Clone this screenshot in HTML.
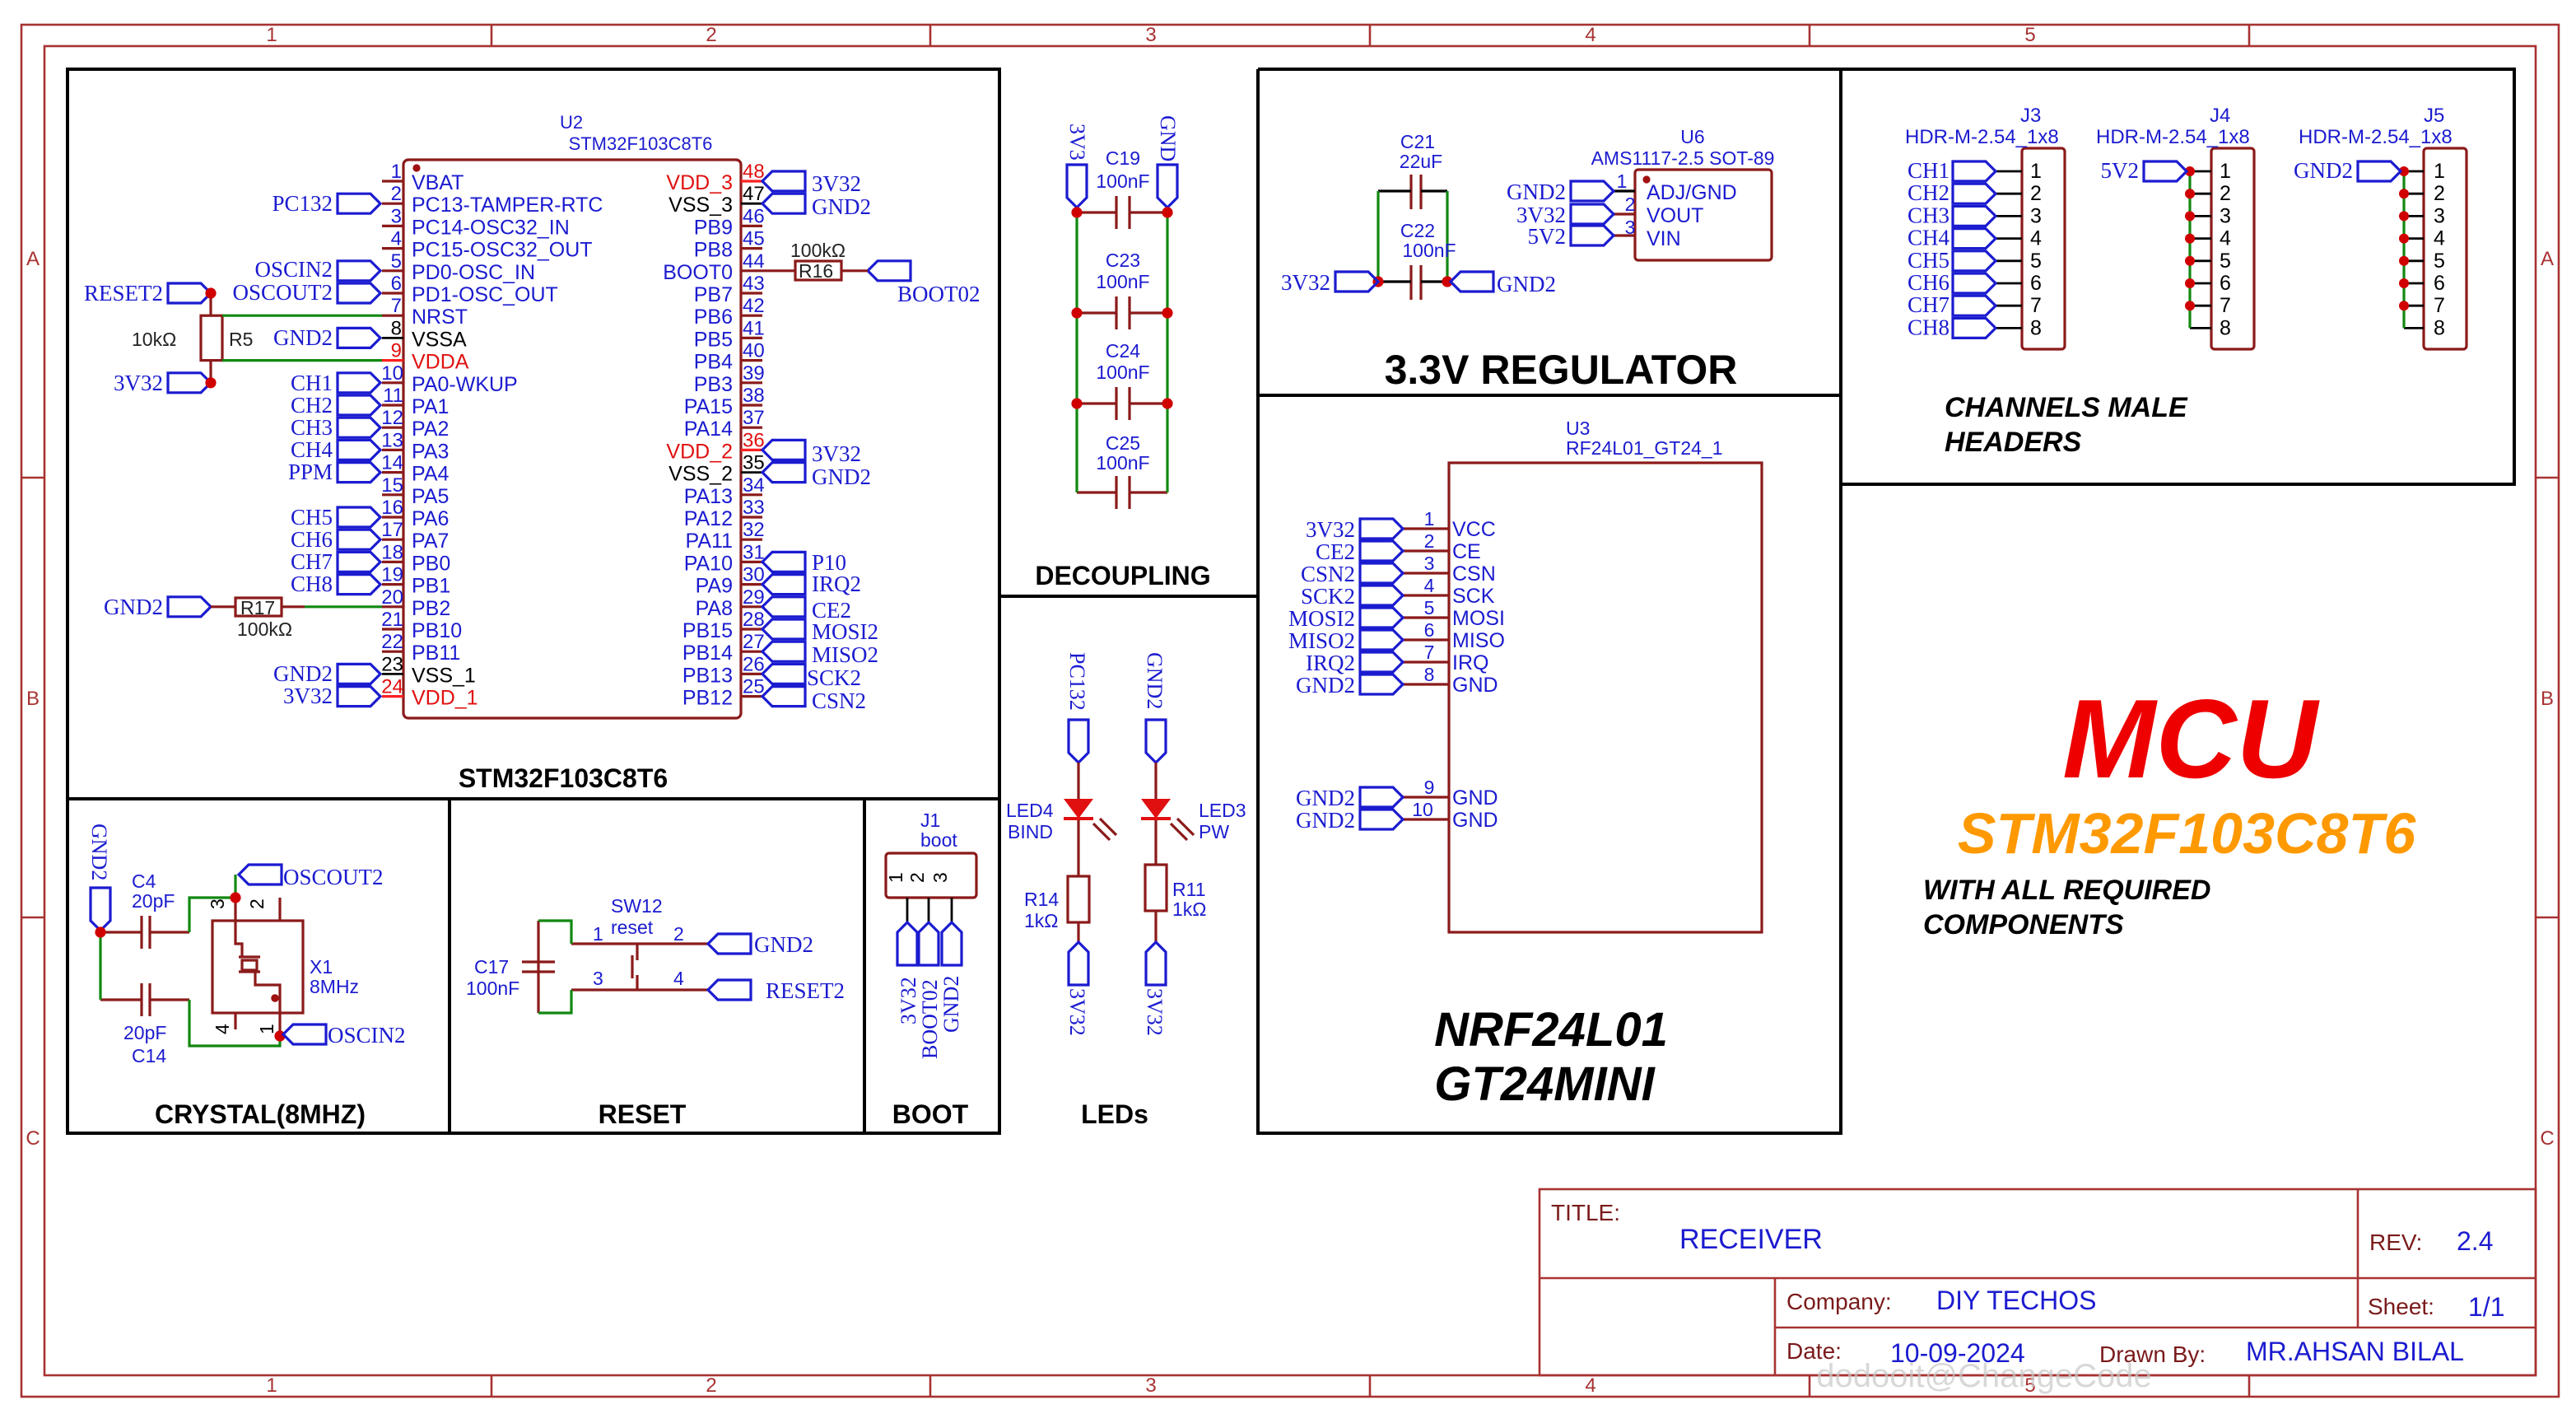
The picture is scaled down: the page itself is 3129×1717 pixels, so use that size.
<!DOCTYPE html>
<html><head><meta charset="utf-8"><style>
html,body{margin:0;padding:0;background:#fff}
svg{display:block}
.s{font-family:"Liberation Sans",sans-serif}
.r{font-family:"Liberation Serif",serif}
.b{fill:#1b1bd0}
.k{fill:#000}
.rd{fill:#e01010}
.dr{fill:#7a1010}
</style></head><body>
<svg width="3129" height="1717" viewBox="0 0 1564.5 858.5" xmlns="http://www.w3.org/2000/svg">
<defs>
<path id="fR" d="M0,-6H20L26,0L20,6H0Z" fill="none" stroke="#1b1bd0" stroke-width="1.6"/>
<path id="fL" d="M0,0L6,-6H26V6H6Z" fill="none" stroke="#1b1bd0" stroke-width="1.6"/>
<path id="fD" d="M-6,0H6V20L0,26L-6,20Z" fill="none" stroke="#1b1bd0" stroke-width="1.6"/>
<path id="fU" d="M0,0L6,6V26H-6V6Z" fill="none" stroke="#1b1bd0" stroke-width="1.6"/>
</defs>
<rect width="1564.5" height="858.5" fill="#fff"/>
<g fill="none" stroke="#a83232" stroke-width="1.3">
<rect x="13" y="15" width="1541" height="833"/>
<rect x="27" y="28" width="1513" height="807"/>
<path d="M298.5,15V28M565,15V28M832,15V28M1099,15V28M1366,15V28M298.5,835V848M565,835V848M832,835V848M1099,835V848M1366,835V848M13,290H27M13,557H27M1540,290H1554M1540,557H1554"/>
</g>
<g class="s" font-size="12" fill="#a83232" text-anchor="middle">
<text x="165" y="25">1</text><text x="432" y="25">2</text><text x="699" y="25">3</text><text x="966" y="25">4</text><text x="1233" y="25">5</text>
<text x="165" y="845">1</text><text x="432" y="845">2</text><text x="699" y="845">3</text><text x="966" y="845">4</text><text x="1233" y="845">5</text>
<text x="20" y="161">A</text><text x="20" y="428">B</text><text x="20" y="695">C</text>
<text x="1547" y="161">A</text><text x="1547" y="428">B</text><text x="1547" y="695">C</text>
</g>
<g fill="none" stroke="#000" stroke-width="2">
<rect x="41" y="42" width="566" height="646"/>
<path d="M41,485H607M607,42V688M607,362H764M764,42V688H1118V42H764M764,240H1118M1118,42H1527V294H1118M273,485V688M525,485V688"/>
</g>
<g class="s" font-weight="bold" fill="#000" text-anchor="middle">
<text x="342" y="478" font-size="16">STM32F103C8T6</text>
<text x="682" y="355" font-size="16">DECOUPLING</text>
<text x="948" y="233" font-size="25">3.3V REGULATOR</text>
<text x="158" y="682" font-size="16">CRYSTAL(8MHZ)</text>
<text x="390" y="682" font-size="16">RESET</text>
<text x="565" y="682" font-size="16">BOOT</text>
<text x="677" y="682" font-size="16">LEDs</text>
</g>
<g class="s" font-weight="bold" font-style="italic">
<text x="942" y="635" font-size="29" text-anchor="middle">NRF24L01</text>
<text x="938" y="668" font-size="29" text-anchor="middle">GT24MINI</text>
<text x="1181" y="253" font-size="17">CHANNELS MALE</text>
<text x="1181" y="274" font-size="17">HEADERS</text>
<text x="1330" y="472" font-size="68" fill="#ee0000" text-anchor="middle">MCU</text>
<text x="1328" y="518" font-size="35" fill="#ff9900" text-anchor="middle">STM32F103C8T6</text>
<text x="1168" y="546" font-size="17">WITH ALL REQUIRED</text>
<text x="1168" y="567" font-size="17">COMPONENTS</text>
</g>

<rect x="245" y="97" width="205" height="339" rx="3" fill="none" stroke="#8b1a1a" stroke-width="1.6"/>
<circle cx="253" cy="102" r="2.3" fill="#a01010"/>
<g class="s" font-size="11" fill="#1b1bd0" text-anchor="middle"><text x="347" y="78">U2</text><text x="389" y="91">STM32F103C8T6</text></g>
<g stroke="#8b1a1a" stroke-width="1.6">
<path d="M232,110H245M232,123.6H245M232,137.2H245M232,150.8H245M232,164.4H245M232,178H245M232,191.6H245M232,232.4H245M232,246H245M232,259.6H245M232,273.2H245M232,286.8H245M232,300.4H245M232,314H245M232,327.6H245M232,341.2H245M232,354.8H245M232,368.4H245M232,382H245M232,395.6H245"/>
<path d="M450,150.8H463M450,137.2H463M450,164.4H463M450,178H463M450,191.6H463M450,205.2H463M450,218.8H463M450,232.4H463M450,246H463M450,259.6H463M450,300.4H463M450,314H463M450,327.6H463M450,341.2H463M450,354.8H463M450,368.4H463M450,382H463M450,395.6H463M450,409.2H463M450,422.8H463"/>
</g>
<path d="M232,218.8H245M232,422.8H245M450,110H463M450,273.2H463" stroke="#ff2020" stroke-width="1.6"/>
<path d="M232,205.2H245M232,409.2H245M450,123.6H463M450,286.8H463" stroke="#000" stroke-width="1.4"/>
<g class="s" font-size="12" text-anchor="end" fill="#1b1bd0">
<text x="244" y="108">1</text><text x="244" y="121.6">2</text><text x="244" y="135.2">3</text><text x="244" y="148.8">4</text><text x="244" y="162.4">5</text><text x="244" y="176">6</text><text x="244" y="189.6">7</text><text x="244" y="203.2" class="k">8</text><text x="244" y="216.8" class="rd">9</text><text x="245" y="230.4">10</text><text x="245" y="244">11</text><text x="245" y="257.6">12</text><text x="245" y="271.2">13</text><text x="245" y="284.8">14</text><text x="245" y="298.4">15</text><text x="245" y="312">16</text><text x="245" y="325.6">17</text><text x="245" y="339.2">18</text><text x="245" y="352.8">19</text><text x="245" y="366.4">20</text><text x="245" y="380">21</text><text x="245" y="393.6">22</text><text x="245" y="407.2" class="k">23</text><text x="245" y="420.8" class="rd">24</text>
</g>
<g class="s" font-size="12" fill="#1b1bd0">
<text x="451" y="108" class="rd">48</text><text x="451" y="121.6" class="k">47</text><text x="451" y="135.2">46</text><text x="451" y="148.8">45</text><text x="451" y="162.4">44</text><text x="451" y="176">43</text><text x="451" y="189.6">42</text><text x="451" y="203.2">41</text><text x="451" y="216.8">40</text><text x="451" y="230.4">39</text><text x="451" y="244">38</text><text x="451" y="257.6">37</text><text x="451" y="271.2" class="rd">36</text><text x="451" y="284.8" class="k">35</text><text x="451" y="298.4">34</text><text x="451" y="312">33</text><text x="451" y="325.6">32</text><text x="451" y="339.2">31</text><text x="451" y="352.8">30</text><text x="451" y="366.4">29</text><text x="451" y="380">28</text><text x="451" y="393.6">27</text><text x="451" y="407.2">26</text><text x="451" y="420.8">25</text>
</g>
<g class="s" font-size="12.5" fill="#1b1bd0">
<text x="250" y="115">VBAT</text><text x="250" y="128.6">PC13-TAMPER-RTC</text><text x="250" y="142.2">PC14-OSC32_IN</text><text x="250" y="155.8">PC15-OSC32_OUT</text><text x="250" y="169.4">PD0-OSC_IN</text><text x="250" y="183">PD1-OSC_OUT</text><text x="250" y="196.6">NRST</text><text x="250" y="210.2" class="k">VSSA</text><text x="250" y="223.8" class="rd">VDDA</text><text x="250" y="237.4">PA0-WKUP</text><text x="250" y="251">PA1</text><text x="250" y="264.6">PA2</text><text x="250" y="278.2">PA3</text><text x="250" y="291.8">PA4</text><text x="250" y="305.4">PA5</text><text x="250" y="319">PA6</text><text x="250" y="332.6">PA7</text><text x="250" y="346.2">PB0</text><text x="250" y="359.8">PB1</text><text x="250" y="373.4">PB2</text><text x="250" y="387">PB10</text><text x="250" y="400.6">PB11</text><text x="250" y="414.2" class="k">VSS_1</text><text x="250" y="427.8" class="rd">VDD_1</text>
</g>
<g class="s" font-size="12.5" fill="#1b1bd0" text-anchor="end">
<text x="445" y="115" class="rd">VDD_3</text><text x="445" y="128.6" class="k">VSS_3</text><text x="445" y="142.2">PB9</text><text x="445" y="155.8">PB8</text><text x="445" y="169.4">BOOT0</text><text x="445" y="183">PB7</text><text x="445" y="196.6">PB6</text><text x="445" y="210.2">PB5</text><text x="445" y="223.8">PB4</text><text x="445" y="237.4">PB3</text><text x="445" y="251">PA15</text><text x="445" y="264.6">PA14</text><text x="445" y="278.2" class="rd">VDD_2</text><text x="445" y="291.8" class="k">VSS_2</text><text x="445" y="305.4">PA13</text><text x="445" y="319">PA12</text><text x="445" y="332.6">PA11</text><text x="445" y="346.2">PA10</text><text x="445" y="359.8">PA9</text><text x="445" y="373.4">PA8</text><text x="445" y="387">PB15</text><text x="445" y="400.6">PB14</text><text x="445" y="414.2">PB13</text><text x="445" y="427.8">PB12</text>
</g>
<use href="#fR" x="205" y="123.6"/><use href="#fR" x="205" y="164.4"/><use href="#fR" x="205" y="178"/><use href="#fR" x="205" y="205.2"/>
<use href="#fR" x="205" y="232.4"/><use href="#fR" x="205" y="246"/><use href="#fR" x="205" y="259.6"/><use href="#fR" x="205" y="273.2"/><use href="#fR" x="205" y="286.8"/>
<use href="#fR" x="205" y="314"/><use href="#fR" x="205" y="327.6"/><use href="#fR" x="205" y="341.2"/><use href="#fR" x="205" y="354.8"/>
<use href="#fR" x="205" y="409.2"/><use href="#fR" x="205" y="422.8"/>
<use href="#fR" x="102" y="178"/><use href="#fR" x="102" y="232.4"/><use href="#fR" x="102" y="368.4"/>
<g class="r" font-size="13.5" fill="#1b1bd0" text-anchor="end">
<text x="202" y="128">PC132</text><text x="202" y="168">OSCIN2</text><text x="202" y="182">OSCOUT2</text><text x="202" y="209.5">GND2</text>
<text x="202" y="237">CH1</text><text x="202" y="250.5">CH2</text><text x="202" y="264">CH3</text><text x="202" y="277.5">CH4</text><text x="202" y="291">PPM</text>
<text x="202" y="318.5">CH5</text><text x="202" y="332">CH6</text><text x="202" y="345.5">CH7</text><text x="202" y="359">CH8</text>
<text x="202" y="413.5">GND2</text><text x="202" y="427">3V32</text>
<text x="99" y="182.5">RESET2</text><text x="99" y="237">3V32</text><text x="99" y="373">GND2</text>
</g>
<path d="M128,178V191.6M128,218.8V232.4M128,368.4H143M171,368.4H185" stroke="#8b1a1a" stroke-width="1.6" fill="none"/>
<rect x="122" y="191.6" width="13" height="27.2" fill="none" stroke="#8b1a1a" stroke-width="1.6"/>
<path d="M135,191.6H232M135,218.8H232M185,368.4H232" stroke="#118811" stroke-width="1.6"/>
<circle cx="128" cy="178" r="3.3" fill="#d00000"/><circle cx="128" cy="232.4" r="3.3" fill="#d00000"/>
<rect x="143" y="363" width="28" height="11" fill="none" stroke="#8b1a1a" stroke-width="1.6"/>
<g class="s" font-size="11.5" fill="#222"><text x="80" y="210">10kΩ</text><text x="139" y="210">R5</text><text x="146" y="373">R17</text><text x="144" y="386">100kΩ</text></g>
<use href="#fL" x="463" y="110"/><use href="#fL" x="463" y="123.6"/><use href="#fL" x="463" y="273.2"/><use href="#fL" x="463" y="286.8"/>
<use href="#fL" x="463" y="341.2"/><use href="#fL" x="463" y="354.8"/><use href="#fL" x="463" y="368.4"/><use href="#fL" x="463" y="382"/><use href="#fL" x="463" y="395.6"/><use href="#fL" x="463" y="409.2"/><use href="#fL" x="463" y="422.8"/>
<use href="#fL" x="527" y="164.4"/>
<g class="r" font-size="13.5" fill="#1b1bd0">
<text x="493" y="116">3V32</text><text x="493" y="130">GND2</text><text x="493" y="280">3V32</text><text x="493" y="294">GND2</text>
<text x="493" y="346">P10</text><text x="493" y="359">IRQ2</text><text x="493" y="375">CE2</text><text x="493" y="388">MOSI2</text><text x="493" y="402">MISO2</text><text x="490" y="416">SCK2</text><text x="493" y="430">CSN2</text>
<text x="545" y="183">BOOT02</text>
</g>
<path d="M463,164.4H483M511,164.4H527" stroke="#8b1a1a" stroke-width="1.6"/>
<rect x="483" y="158.5" width="28" height="11.5" fill="none" stroke="#8b1a1a" stroke-width="1.6"/>
<g class="s" font-size="11.5" fill="#222"><text x="485" y="168.5">R16</text><text x="480" y="156">100kΩ</text></g>

<use href="#fD" x="654" y="100"/><use href="#fD" x="709" y="100"/>
<g class="r" font-size="13" fill="#1b1bd0"><text transform="translate(650,75) rotate(90)">3V3</text><text transform="translate(705,70) rotate(90)">GND</text></g>
<g stroke="#8b1a1a" stroke-width="1.6" fill="none">
<path d="M654,129H678M686,129H709M678,119V139M686,119V139"/>
<path d="M654,190H678M686,190H709M678,180V200M686,180V200"/>
<path d="M654,245H678M686,245H709M678,235V255M686,235V255"/>
<path d="M654,299H678M686,299H709M678,289V309M686,289V309"/>
</g>
<path d="M654,129V299M709,129V299" stroke="#118811" stroke-width="1.6"/>
<g fill="#d00000"><circle cx="654" cy="129" r="3.3"/><circle cx="709" cy="129" r="3.3"/><circle cx="654" cy="190" r="3.3"/><circle cx="709" cy="190" r="3.3"/><circle cx="654" cy="245" r="3.3"/><circle cx="709" cy="245" r="3.3"/></g>
<g class="s" font-size="11.5" fill="#1b1bd0" text-anchor="middle">
<text x="682" y="100">C19</text><text x="682" y="114">100nF</text><text x="682" y="162">C23</text><text x="682" y="175">100nF</text>
<text x="682" y="217">C24</text><text x="682" y="230">100nF</text><text x="682" y="273">C25</text><text x="682" y="285">100nF</text>
</g>

<g stroke="#8b1a1a" stroke-width="1.6" fill="none">
<path d="M857,106V127M863,106V127M857,161V182M863,161V182"/>
<rect x="993" y="103" width="83" height="55" rx="2"/>
<path d="M980,130H993M980,143H993"/>
</g>
<path d="M837,116H857M863,116H879M837,171H857M863,171H879M980,116H993" stroke="#000" stroke-width="1.6"/>
<path d="M837,116V171M879,116V171" stroke="#118811" stroke-width="1.6"/>
<circle cx="837" cy="171" r="3.3" fill="#d00000"/><circle cx="879" cy="171" r="3.3" fill="#d00000"/><circle cx="1000" cy="109" r="2.3" fill="#a01010"/>
<use href="#fR" x="811" y="171"/><use href="#fL" x="881" y="171"/>
<use href="#fR" x="954" y="116"/><use href="#fR" x="954" y="130"/><use href="#fR" x="954" y="143"/>
<g class="r" font-size="13.5" fill="#1b1bd0">
<text x="808" y="176" text-anchor="end">3V32</text><text x="909" y="177">GND2</text>
<text x="951" y="121" text-anchor="end">GND2</text><text x="951" y="135" text-anchor="end">3V32</text><text x="951" y="148" text-anchor="end">5V2</text>
</g>
<g class="s" font-size="12.5" fill="#1b1bd0">
<text x="861" y="90" text-anchor="middle" font-size="11.5">C21</text><text x="863" y="102" text-anchor="middle" font-size="11.5">22uF</text>
<text x="861" y="144" text-anchor="middle" font-size="11.5">C22</text><text x="868" y="156" text-anchor="middle" font-size="11.5">100nF</text>
<text x="1028" y="87" text-anchor="middle" font-size="11.5">U6</text><text x="1022" y="100" text-anchor="middle" font-size="11.5">AMS1117-2.5 SOT-89</text>
<text x="1000" y="121">ADJ/GND</text><text x="1000" y="135">VOUT</text><text x="1000" y="149">VIN</text>
<text x="985" y="114" font-size="11.5" text-anchor="middle">1</text><text x="990" y="128" font-size="11.5" text-anchor="middle">2</text><text x="990" y="142" font-size="11.5" text-anchor="middle">3</text>
</g>

<rect x="880" y="281" width="190" height="285" fill="none" stroke="#8b1a1a" stroke-width="1.6"/>
<g class="s" font-size="11.5" fill="#1b1bd0"><text x="951" y="264">U3</text><text x="951" y="276">RF24L01_GT24_1</text></g>
<g stroke="#8b1a1a" stroke-width="1.6"><path d="M852,321H880M852,334.5H880M852,348H880M852,361.5H880M852,375H880M852,388.5H880M852,402H880M852,415.5H880M852,484H880M852,497.5H880"/></g>
<g>
<use href="#fR" x="826" y="321"/><use href="#fR" x="826" y="334.5"/><use href="#fR" x="826" y="348"/><use href="#fR" x="826" y="361.5"/><use href="#fR" x="826" y="375"/><use href="#fR" x="826" y="388.5"/><use href="#fR" x="826" y="402"/><use href="#fR" x="826" y="415.5"/><use href="#fR" x="826" y="484"/><use href="#fR" x="826" y="497.5"/>
</g>
<g class="r" font-size="13.5" fill="#1b1bd0" text-anchor="end">
<text x="823" y="326">3V32</text><text x="823" y="339.5">CE2</text><text x="823" y="353">CSN2</text><text x="823" y="366.5">SCK2</text><text x="823" y="380">MOSI2</text><text x="823" y="393.5">MISO2</text><text x="823" y="407">IRQ2</text><text x="823" y="420.5">GND2</text><text x="823" y="489">GND2</text><text x="823" y="502.5">GND2</text>
</g>
<g class="s" font-size="12.5" fill="#1b1bd0">
<text x="882" y="325.5">VCC</text><text x="882" y="339">CE</text><text x="882" y="352.5">CSN</text><text x="882" y="366">SCK</text><text x="882" y="379.5">MOSI</text><text x="882" y="393">MISO</text><text x="882" y="406.5">IRQ</text><text x="882" y="420">GND</text><text x="882" y="488.5">GND</text><text x="882" y="502">GND</text>
<g font-size="11.5" text-anchor="middle"><text x="868" y="319">1</text><text x="868" y="332.5">2</text><text x="868" y="346">3</text><text x="868" y="359.5">4</text><text x="868" y="373">5</text><text x="868" y="386.5">6</text><text x="868" y="400">7</text><text x="868" y="413.5">8</text><text x="868" y="482">9</text><text x="864" y="495.5">10</text></g>
</g>

<g fill="none" stroke="#8b1a1a" stroke-width="1.6">
<rect x="1228" y="90" width="26" height="122" rx="2"/><rect x="1343" y="90" width="26" height="122" rx="2"/><rect x="1472" y="90" width="26" height="122" rx="2"/>
</g>
<g stroke="#000" stroke-width="1.4">
<path d="M1212,104H1228M1212,117.6H1228M1212,131.2H1228M1212,144.8H1228M1212,158.4H1228M1212,172H1228M1212,185.6H1228M1212,199.2H1228"/>
<path d="M1330,104H1343M1330,117.6H1343M1330,131.2H1343M1330,144.8H1343M1330,158.4H1343M1330,172H1343M1330,185.6H1343M1330,199.2H1343"/>
<path d="M1460,104H1472M1460,117.6H1472M1460,131.2H1472M1460,144.8H1472M1460,158.4H1472M1460,172H1472M1460,185.6H1472M1460,199.2H1472"/>
</g>
<path d="M1330,104V199.2M1460,104V199.2" stroke="#118811" stroke-width="1.6"/>
<g fill="#d00000">
<circle cx="1330" cy="104" r="3"/><circle cx="1330" cy="117.6" r="3"/><circle cx="1330" cy="131.2" r="3"/><circle cx="1330" cy="144.8" r="3"/><circle cx="1330" cy="158.4" r="3"/><circle cx="1330" cy="172" r="3"/><circle cx="1330" cy="185.6" r="3"/>
<circle cx="1460" cy="104" r="3"/><circle cx="1460" cy="117.6" r="3"/><circle cx="1460" cy="131.2" r="3"/><circle cx="1460" cy="144.8" r="3"/><circle cx="1460" cy="158.4" r="3"/><circle cx="1460" cy="172" r="3"/><circle cx="1460" cy="185.6" r="3"/>
</g>
<use href="#fR" x="1186" y="104"/><use href="#fR" x="1186" y="117.6"/><use href="#fR" x="1186" y="131.2"/><use href="#fR" x="1186" y="144.8"/><use href="#fR" x="1186" y="158.4"/><use href="#fR" x="1186" y="172"/><use href="#fR" x="1186" y="185.6"/><use href="#fR" x="1186" y="199.2"/>
<use href="#fR" x="1302" y="104"/><use href="#fR" x="1432" y="104"/>
<g class="r" font-size="13.5" fill="#1b1bd0" text-anchor="end">
<text x="1184" y="108">CH1</text><text x="1184" y="121.6">CH2</text><text x="1184" y="135.2">CH3</text><text x="1184" y="148.8">CH4</text><text x="1184" y="162.4">CH5</text><text x="1184" y="176">CH6</text><text x="1184" y="189.6">CH7</text><text x="1184" y="203.2">CH8</text>
<text x="1299" y="108">5V2</text><text x="1429" y="108">GND2</text>
</g>
<g class="s" font-size="12" fill="#1b1bd0">
<text x="1227" y="74">J3</text><text x="1157" y="87">HDR-M-2.54_1x8</text>
<text x="1342" y="74">J4</text><text x="1273" y="87">HDR-M-2.54_1x8</text>
<text x="1472" y="74">J5</text><text x="1396" y="87">HDR-M-2.54_1x8</text>
</g>
<g class="s" font-size="12.5" fill="#000">
<text x="1233" y="108">1</text><text x="1233" y="121.6">2</text><text x="1233" y="135.2">3</text><text x="1233" y="148.8">4</text><text x="1233" y="162.4">5</text><text x="1233" y="176">6</text><text x="1233" y="189.6">7</text><text x="1233" y="203.2">8</text>
<text x="1348" y="108">1</text><text x="1348" y="121.6">2</text><text x="1348" y="135.2">3</text><text x="1348" y="148.8">4</text><text x="1348" y="162.4">5</text><text x="1348" y="176">6</text><text x="1348" y="189.6">7</text><text x="1348" y="203.2">8</text>
<text x="1478" y="108">1</text><text x="1478" y="121.6">2</text><text x="1478" y="135.2">3</text><text x="1478" y="148.8">4</text><text x="1478" y="162.4">5</text><text x="1478" y="176">6</text><text x="1478" y="189.6">7</text><text x="1478" y="203.2">8</text>
</g>

<use href="#fD" x="655" y="437"/><use href="#fD" x="702" y="437"/>
<g class="r" font-size="13" fill="#1b1bd0">
<text transform="translate(650,396) rotate(90)">PC132</text><text transform="translate(697,396) rotate(90)">GND2</text>
<text transform="translate(650,600) rotate(90)">3V32</text><text transform="translate(697,600) rotate(90)">3V32</text>
</g>
<g stroke="#8b1a1a" stroke-width="1.6" fill="none">
<path d="M655,463V532M655,560V572M702,463V525M702,553V572"/>
<rect x="648.5" y="532" width="13" height="28"/><rect x="695.5" y="525" width="13" height="28"/>
<path d="M664,500L674,510M668,497L678,507M711,500L721,510M715,497L725,507"/>
</g>
<path d="M646,485H664L655,497Z" fill="#e01010"/><path d="M646,497H664" stroke="#e01010" stroke-width="2"/>
<path d="M693,485H711L702,497Z" fill="#e01010"/><path d="M693,497H711" stroke="#e01010" stroke-width="2"/>
<use href="#fU" x="655" y="572"/><use href="#fU" x="702" y="572"/>
<g class="s" font-size="11.5" fill="#1b1bd0">
<text x="611" y="496">LED4</text><text x="612" y="509">BIND</text><text x="728" y="496">LED3</text><text x="728" y="509">PW</text>
<text x="622" y="550">R14</text><text x="622" y="563">1kΩ</text><text x="712" y="544">R11</text><text x="712" y="556">1kΩ</text>
</g>

<use href="#fD" x="61" y="539"/>
<text class="r" font-size="13" fill="#1b1bd0" transform="translate(56,500) rotate(90)">GND2</text>
<g stroke="#8b1a1a" stroke-width="1.6" fill="none">
<path d="M61,566H86M91,566H115M86,556V576M91,556V576"/>
<path d="M61,607H86M91,607H115M86,597V617M91,597V617"/>
<rect x="129" y="559" width="55" height="56"/>
<path d="M143,545V573H147V581M145,581H158M145,590H158M147,583H156V589H147ZM155,590V598H170V624M170,629V615M170,545V559M143,615V625"/>
</g>
<circle cx="167" cy="606" r="2.4" fill="#a01010"/>
<path d="M61,566V607M115,566V545H143V531M115,607V635H170V629" stroke="#118811" stroke-width="1.6" fill="none"/>
<circle cx="61" cy="566" r="3.3" fill="#d00000"/><circle cx="143" cy="545" r="3.3" fill="#d00000"/><circle cx="170" cy="629" r="3.3" fill="#d00000"/>
<use href="#fL" x="145" y="531"/><use href="#fL" x="172" y="628"/>
<g class="r" font-size="13.5" fill="#1b1bd0"><text x="172" y="537">OSCOUT2</text><text x="199" y="633">OSCIN2</text></g>
<g class="s" font-size="11.5" fill="#1b1bd0">
<text x="80" y="539">C4</text><text x="80" y="551">20pF</text><text x="75" y="631">20pF</text><text x="80" y="645">C14</text>
<text x="188" y="591">X1</text><text x="188" y="603">8MHz</text>
<text x="136" y="552" fill="#000" transform="rotate(-90 136 552)">3</text><text x="160" y="552" fill="#000" transform="rotate(-90 160 552)">2</text>
<text x="139" y="628" fill="#000" transform="rotate(-90 139 628)">4</text><text x="166" y="628" fill="#000" transform="rotate(-90 166 628)">1</text>
</g>

<g stroke="#8b1a1a" stroke-width="1.6" fill="none">
<path d="M347,573H430M347,601H430M387,573V583M387,592V601M384,580V594M327,559V615M317,584H337M317,590H337"/>
</g>
<path d="M327,559H347V573M327,615H347V601" stroke="#118811" stroke-width="1.6" fill="none"/>
<use href="#fL" x="430" y="573"/><use href="#fL" x="430" y="601"/>
<g class="r" font-size="13.5" fill="#1b1bd0"><text x="458" y="578">GND2</text><text x="465" y="606">RESET2</text></g>
<g class="s" font-size="11.5" fill="#1b1bd0">
<text x="371" y="554">SW12</text><text x="371" y="567">reset</text>
<text x="360" y="571">1</text><text x="409" y="571">2</text><text x="360" y="598">3</text><text x="409" y="598">4</text>
<text x="288" y="591">C17</text><text x="283" y="604">100nF</text>
</g>

<rect x="538" y="518" width="55" height="27" rx="2" fill="none" stroke="#8b1a1a" stroke-width="1.6"/>
<path d="M551,545V560M564,545V560M578,545V560" stroke="#000" stroke-width="1.4"/>
<use href="#fU" x="551" y="560"/><use href="#fU" x="564" y="560"/><use href="#fU" x="578" y="560"/>
<g class="s" font-size="11.5" fill="#1b1bd0"><text x="559" y="502">J1</text><text x="559" y="514">boot</text></g>
<g class="s" font-size="11.5" fill="#000"><text transform="translate(548,536) rotate(-90)">1</text><text transform="translate(561,536) rotate(-90)">2</text><text transform="translate(575,536) rotate(-90)">3</text></g>
<g class="r" font-size="13" fill="#1b1bd0">
<text transform="translate(556,622) rotate(-90)">3V32</text><text transform="translate(569,643) rotate(-90)">BOOT02</text><text transform="translate(582,627) rotate(-90)">GND2</text>
</g>

<g fill="none" stroke="#a83232" stroke-width="1.3">
<rect x="935" y="722" width="605" height="113"/>
<path d="M935,776H1540M1078,776V835M1078,806H1540M1432,722V806"/>
</g>
<g class="s" font-size="14" fill="#7a1a1a">
<text x="942" y="741">TITLE:</text><text x="1439" y="759">REV:</text><text x="1085" y="795">Company:</text><text x="1438" y="798">Sheet:</text><text x="1085" y="825">Date:</text><text x="1275" y="827">Drawn By:</text>
</g>
<g class="s" fill="#1b1bd0">
<text x="1020" y="758" font-size="17">RECEIVER</text><text x="1492" y="759" font-size="16">2.4</text>
<text x="1176" y="795" font-size="16">DIY TECHOS</text><text x="1499" y="799" font-size="16">1/1</text>
<text x="1148" y="827" font-size="16">10-09-2024</text><text x="1364" y="826" font-size="16">MR.AHSAN BILAL</text>
</g>
<text x="1205" y="842" class="s" font-size="20" fill="#c8c8c8" text-anchor="middle" opacity="0.7">dodooit@ChangeCode</text>
</svg>
</body></html>
